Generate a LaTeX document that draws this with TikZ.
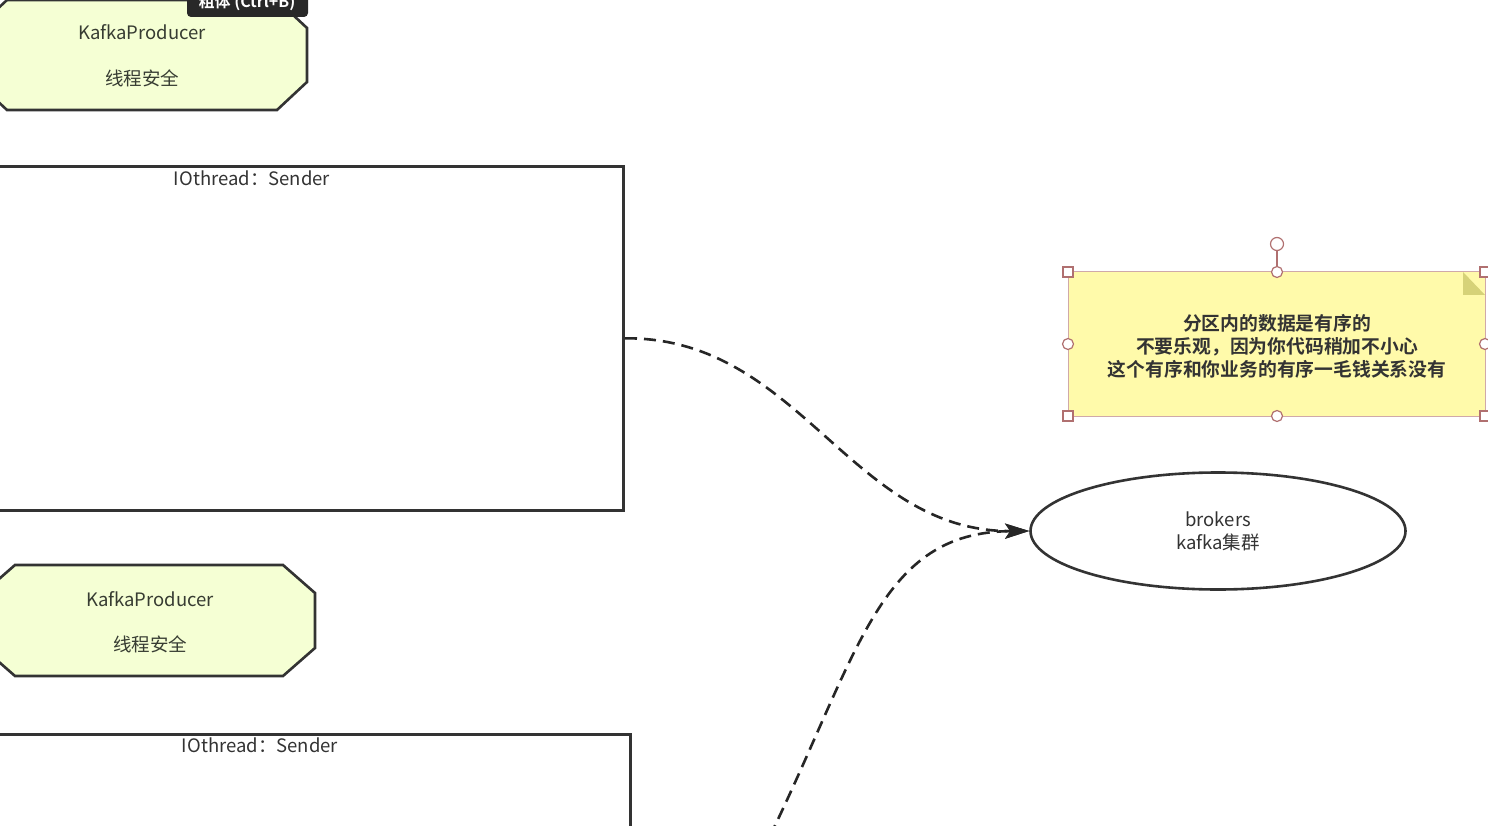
\documentclass[tikz,border=0pt]{standalone}
\usepackage{fontspec}
\setmainfont{Noto Sans CJK SC}
\newfontfamily\cjkb{Noto Sans CJK SC}[BoldFont=* Bold]
\usetikzlibrary{shapes.geometric,arrows.meta}
\definecolor{prodfill}{RGB}{245,255,212}
\definecolor{linec}{RGB}{51,51,51}
\definecolor{txtc}{RGB}{55,60,50}
\definecolor{notefill}{RGB}{255,250,170}
\definecolor{notefold}{RGB}{214,210,120}
\definecolor{selc}{RGB}{176,112,112}
\definecolor{tipc}{RGB}{40,40,40}
\tikzset{
  prodshape/.style={draw=linec, line width=2.6pt, fill=prodfill},
  prodtext/.style={font=\fontsize{18.5}{22}\selectfont, text=txtc, inner sep=0},
  senderbox/.style={draw=linec, line width=2.6pt, inner sep=0},
  boxtitle/.style={font=\fontsize{18.5}{22}\selectfont, text=linec, inner sep=0},
  flow/.style={draw=black!85, line width=2.6pt, dash pattern=on 12pt off 7pt},
  tipstyle/.style={-{Stealth[length=24pt,width=15pt,inset=5pt]}},
  handlesq/.style={draw=selc, fill=white, line width=1.2pt, minimum size=10pt, inner sep=0},
  handlecirc/.style={draw=selc, fill=white, line width=1.2pt, circle, minimum size=11pt, inner sep=0},
}
\begin{document}
\begin{tikzpicture}[x=1pt,y=-1pt]
\useasboundingbox (0,0) rectangle (1488,826);
\clip (0,0) rectangle (1488,826);
\fill[white] (0,0) rectangle (1488,826);

% top producer
\draw[prodshape] (7,0) -- (277,0) -- (307,28) -- (307,82) -- (277,110) -- (7,110) -- (-23,82) -- (-23,28) -- cycle;
\node[prodtext] (p1a) at (142,32) {KafkaProducer};
\node[prodtext] (p1b) at (142,78) {线程安全};

% tooltip
\fill[tipc, rounded corners=4pt] (187,-12) rectangle (308,17);
\node[font=\cjkb\bfseries\fontsize{16}{18}\selectfont, text=white, inner sep=0] (tip) at (247,2) {粗体 (Ctrl+B)};

% first sender box
\node[senderbox, minimum width=750, minimum height=344, anchor=north east] (s1) at (625,165) {};
\node[boxtitle] (s1t) at (252,178) {IOthread：Sender};

% second producer
\draw[prodshape] (15,565) -- (283,565) -- (315,593) -- (315,648) -- (283,676) -- (15,676) -- (-17,648) -- (-17,593) -- cycle;
\node[prodtext] (p2a) at (150,599) {KafkaProducer};
\node[prodtext] (p2b) at (150,644) {线程安全};

% second sender box
\node[senderbox, minimum width=760, minimum height=344, anchor=north east] (s2) at (632,733) {};
\node[boxtitle] (s2t) at (260,745) {IOthread：Sender};

% brokers
\node[draw=linec, line width=2.6pt, ellipse, minimum width=375, minimum height=117, inner sep=0,
      font=\fontsize{18.5}{23}\selectfont, text=linec, align=center] (br) at (1218,531) {brokers\\kafka集群};

% note
\fill[notefill] (1068,272) rectangle (1485,416);
\draw[selc!60, line width=1pt] (1068,272) rectangle (1485,416);
\fill[notefold] (1463,272) -- (1485,295) -- (1463,295) -- cycle;
\node[font=\cjkb\bfseries\fontsize{18.8}{23}\selectfont, text=black!80, align=center, inner sep=0] (note) at (1277,346)
  {分区内的数据是有序的\\不要乐观，因为你代码稍加不小心\\这个有序和你业务的有序一毛钱关系没有};

% selection handles
\draw[selc, line width=1.6pt] (1277,249) -- (1277,272);
\node[handlecirc, minimum size=13pt] (rot) at (1277,244) {};
\node[handlesq] (h1) at (1068,272) {};
\node[handlesq] (h2) at (1485,272) {};
\node[handlesq] (h3) at (1068,416) {};
\node[handlesq] (h4) at (1485,416) {};
\node[handlecirc] (h5) at (1277,272) {};
\node[handlecirc] (h6) at (1277,416) {};
\node[handlecirc] (h7) at (1068,344) {};
\node[handlecirc] (h8) at (1485,344) {};

% connectors
\coordinate (c2) at (770,836);
\draw[flow, tipstyle] (s1.east) .. controls (800,337) and (850,532) .. (br.west);
\draw[flow, tipstyle] (c2) .. controls (860,650) and (880,532) .. (br.west);
\end{tikzpicture}
\end{document}
